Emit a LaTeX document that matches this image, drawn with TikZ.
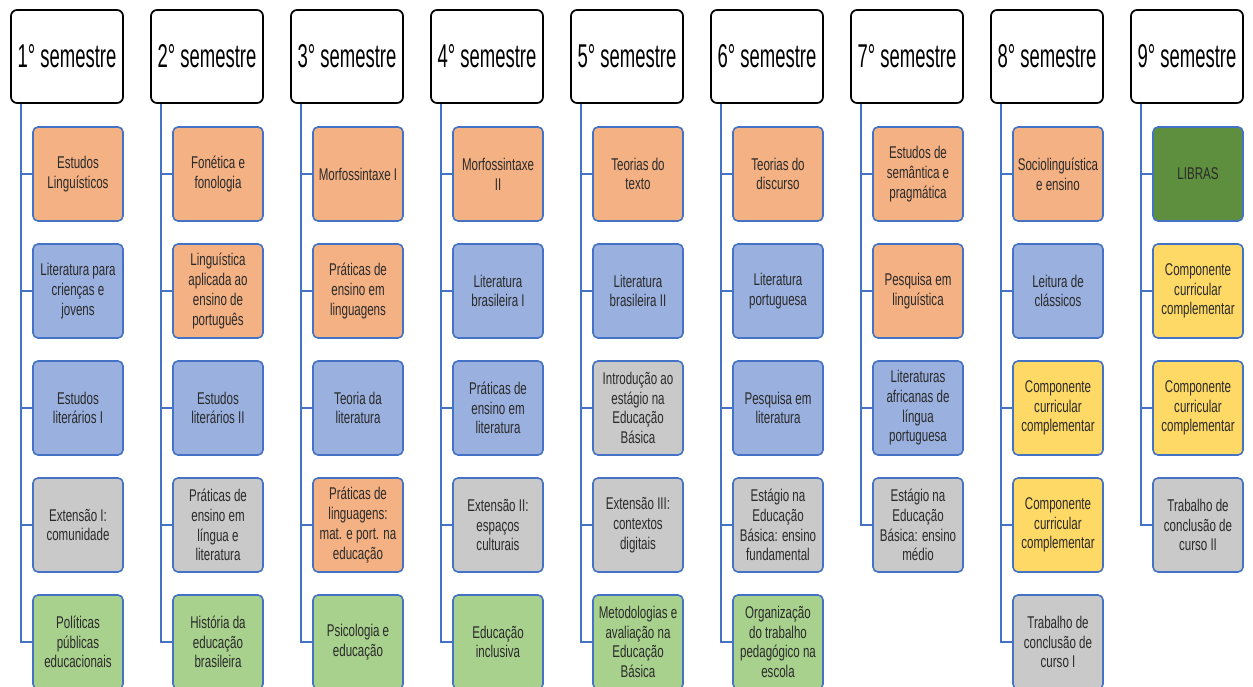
\documentclass[tikz,border=0pt]{standalone}
\usepackage{fontspec}
\newfontfamily\narrow{Liberation Sans}[FakeStretch=0.68]
\newfontfamily\hnarrow{Liberation Sans}[FakeStretch=0.56]
\definecolor{lineblue}{HTML}{4472C4}
\definecolor{orfill}{HTML}{F4B183}
\definecolor{blfill}{HTML}{9AB0DF}
\definecolor{grfill}{HTML}{C9C9C9}
\definecolor{gnfill}{HTML}{A9D18E}
\definecolor{dgfill}{HTML}{5E8F3E}
\definecolor{yefill}{HTML}{FFD966}
\definecolor{txt}{HTML}{2A2A2A}
\begin{document}
\begin{tikzpicture}[x=1pt,y=-1pt,
  hdr/.style={draw=black, line width=1.7pt, rounded corners=6pt, fill=white,
    minimum width=112pt, minimum height=93pt, inner sep=0pt,
    font=\hnarrow\fontsize{33}{38}\selectfont},
  box/.style={draw=lineblue, line width=1.6pt, rounded corners=5pt,
    minimum width=90pt, minimum height=94pt, inner sep=0pt, align=center,
    text=txt, font=\narrow\fontsize{17}{19.7}\selectfont},
  or/.style={box, fill=orfill},
  bl/.style={box, fill=blfill},
  gr/.style={box, fill=grfill},
  gn/.style={box, fill=gnfill},
  dg/.style={box, fill=dgfill},
  ye/.style={box, fill=yefill},
  conn/.style={draw=lineblue, line width=1.6pt}]
\useasboundingbox (0,0) rectangle (1253,687);
\fill[white] (0,0) rectangle (1253,687);

% column 1
\node[hdr] (h1) at (67,56.5) {1° semestre};
\node[or] (c11) at (78,174) {Estudos\\Linguísticos};
\node[bl] (c12) at (78,291) {Literatura para\\crienças e\\jovens};
\node[bl] (c13) at (78,408) {Estudos\\literários I};
\node[gr] (c14) at (78,525) {Extensão I:\\comunidade};
\node[gn] (c15) at (78,642) {Políticas\\públicas\\educacionais};

% column 2
\node[hdr] (h2) at (207,56.5) {2° semestre};
\node[or] (c21) at (218,174) {Fonética e\\fonologia};
\node[or] (c22) at (218,291) {Linguística\\aplicada ao\\ensino de\\português};
\node[bl] (c23) at (218,408) {Estudos\\literários II};
\node[gr] (c24) at (218,525) {Práticas de\\ensino em\\língua e\\literatura};
\node[gn] (c25) at (218,642) {História da\\educação\\brasileira};

% column 3
\node[hdr] (h3) at (347,56.5) {3° semestre};
\node[or] (c31) at (358,174) {Morfossintaxe I};
\node[or] (c32) at (358,291) {Práticas de\\ensino em\\linguagens};
\node[bl] (c33) at (358,408) {Teoria da\\literatura};
\node[or] (c34) at (358,525) {Práticas de\\linguagens:\\mat. e port. na\\educação};
\node[gn] (c35) at (358,642) {Psicologia e\\educação};

% column 4
\node[hdr] (h4) at (487,56.5) {4° semestre};
\node[or] (c41) at (498,174) {Morfossintaxe\\II};
\node[bl] (c42) at (498,291) {Literatura\\brasileira I};
\node[bl] (c43) at (498,408) {Práticas de\\ensino em\\literatura};
\node[gr] (c44) at (498,525) {Extensão II:\\espaços\\culturais};
\node[gn] (c45) at (498,642) {Educação\\inclusiva};

% column 5
\node[hdr] (h5) at (627,56.5) {5° semestre};
\node[or] (c51) at (638,174) {Teorias do\\texto};
\node[bl] (c52) at (638,291) {Literatura\\brasileira II};
\node[gr] (c53) at (638,408) {Introdução ao\\estágio na\\Educação\\Básica};
\node[gr] (c54) at (638,525) {Extensão III:\\contextos\\digitais};
\node[gn] (c55) at (638,642) {Metodologias e\\avaliação na\\Educação\\Básica};

% column 6
\node[hdr] (h6) at (767,56.5) {6° semestre};
\node[or] (c61) at (778,174) {Teorias do\\discurso};
\node[bl] (c62) at (778,291) {Literatura\\portuguesa};
\node[bl] (c63) at (778,408) {Pesquisa em\\literatura};
\node[gr] (c64) at (778,525) {Estágio na\\Educação\\Básica: ensino\\fundamental};
\node[gn] (c65) at (778,642) {Organização\\do trabalho\\pedagógico na\\escola};

% column 7
\node[hdr] (h7) at (907,56.5) {7° semestre};
\node[or] (c71) at (918,174) {Estudos de\\semântica e\\pragmática};
\node[or] (c72) at (918,291) {Pesquisa em\\linguística};
\node[bl] (c73) at (918,408) {Literaturas\\africanas de\\língua\\portuguesa};
\node[gr] (c74) at (918,525) {Estágio na\\Educação\\Básica: ensino\\médio};

% column 8
\node[hdr] (h8) at (1047,56.5) {8° semestre};
\node[or] (c81) at (1058,174) {Sociolinguística\\e ensino};
\node[bl] (c82) at (1058,291) {Leitura de\\clássicos};
\node[ye] (c83) at (1058,408) {Componente\\curricular\\complementar};
\node[ye] (c84) at (1058,525) {Componente\\curricular\\complementar};
\node[gr] (c85) at (1058,642) {Trabalho de\\conclusão de\\curso I};

% column 9
\node[hdr] (h9) at (1187,56.5) {9° semestre};
\node[dg] (c91) at (1198,174) {LIBRAS};
\node[ye] (c92) at (1198,291) {Componente\\curricular\\complementar};
\node[ye] (c93) at (1198,408) {Componente\\curricular\\complementar};
\node[gr] (c94) at (1198,525) {Trabalho de\\conclusão de\\curso II};

% connectors
\foreach \k/\n in {1/5,2/5,3/5,4/5,5/5,6/5,7/4,8/5,9/4}{
  \foreach \i in {1,...,\n}{
    \draw[conn] ([xshift=11pt]h\k.south west) |- (c\k\i.west);
  }
}
\end{tikzpicture}
\end{document}
